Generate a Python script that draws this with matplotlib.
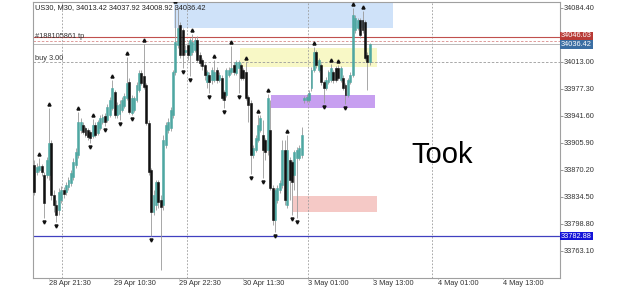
import numpy as np
import matplotlib.pyplot as plt
from matplotlib.patches import Rectangle
import matplotlib.transforms as mtransforms

plt.rcParams["font.family"] = ["Liberation Sans", "DejaVu Sans"]

# M30 candles (price)
opens = [33876.8, 33867.6, 33870.2, 33875.5, 33863.6, 33863.6, 33863.6, 33905.9, 33837.2, 33824.0,
         33817.4, 33830.5, 33843.8, 33841.1, 33847.7, 33853.0, 33860.9, 33876.8, 33890.0, 33923.1,
         33929.7, 33925.7, 33923.1, 33920.4, 33915.2, 33929.7, 33919.1, 33925.7, 33933.7, 33941.6,
         33936.3, 33942.9, 33952.2, 33973.3, 33942.9, 33944.3, 33949.5, 33954.8, 33965.4, 33986.6,
         33945.6, 33949.5, 33962.8, 33976.0, 33998.5, 33994.5, 33982.6, 33932.4, 33870.2, 33814.7,
         33824.0, 33854.3, 33830.5, 33824.0, 33903.3, 33923.1, 33925.7, 33942.9, 33999.8, 34035.5,
         34061.9, 34055.3, 34026.2, 34035.5, 34022.3, 34026.2, 34028.9, 34042.1, 34022.3, 34015.6,
         34009.0, 33986.6, 33995.8, 33989.2, 33989.2, 34002.4, 33989.2, 33991.8, 33973.3, 33969.4,
         33995.8, 33999.8, 34009.0, 33998.5, 34005.1, 34009.0, 34002.4, 33999.8, 33966.7, 33958.8,
         33890.0, 33896.6, 33909.9, 33923.1, 33916.5, 33909.9, 33896.6, 33923.1, 33846.4, 33804.1,
         33830.5, 33843.8, 33850.4, 33896.6, 33824.0, 33883.4, 33880.8, 33863.6, 33886.1, 33886.1,
         33890.0, 33962.8, 33962.8, 33962.8, 33978.6, 34002.4, 34026.2, 34002.4, 34009.0, 33986.6,
         33978.6, 33986.6, 33989.2, 33999.8, 34005.1, 34005.1, 33989.2, 33991.8, 33982.6, 33969.4,
         33986.6, 33995.8, 34055.3, 34058.0, 34068.5, 34068.5, 34065.9, 34022.3, 34013.42]
highs = [33883.4, 33879.5, 33886.1, 33878.2, 33867.6, 33887.4, 33952.2, 33909.9, 33843.8, 33830.5,
         33846.4, 33849.1, 33847.7, 33854.3, 33860.9, 33870.2, 33886.1, 33899.3, 33946.9, 33939.0,
         33933.7, 33928.4, 33925.7, 33923.1, 33937.6, 33933.7, 33936.3, 33942.9, 33944.3, 33945.6,
         33957.5, 33966.7, 33989.2, 33976.0, 33960.1, 33962.8, 33966.7, 33972.0, 34019.6, 33991.8,
         33969.4, 33968.0, 33986.6, 34002.4, 34002.4, 34036.8, 33985.2, 33936.3, 33872.9, 33843.8,
         33857.0, 33857.0, 33837.2, 33916.5, 33933.7, 33939.0, 33953.5, 34002.4, 34088.4, 34084.4,
         34065.9, 34058.0, 34035.5, 34039.4, 34044.7, 34050.0, 34046.1, 34047.4, 34026.2, 34018.3,
         34011.7, 34002.4, 33999.8, 34006.4, 34015.6, 34006.4, 33999.8, 33995.8, 33976.0, 34005.1,
         34006.4, 34034.2, 34013.0, 34015.6, 34015.6, 34011.7, 34005.1, 34013.0, 33969.4, 33962.8,
         33903.3, 33916.5, 33942.9, 33942.9, 33936.3, 33912.5, 33970.7, 33962.8, 33850.4, 33846.4,
         33850.4, 33857.0, 33909.9, 33909.9, 33916.5, 33887.4, 33883.4, 33896.6, 33900.6, 33903.3,
         33927.1, 33968.0, 33970.7, 33976.0, 34006.4, 34032.8, 34028.9, 34018.3, 34011.7, 33989.2,
         33993.2, 34002.4, 34010.4, 34002.4, 34007.7, 34009.0, 34007.7, 33995.8, 33985.2, 33991.8,
         33999.8, 34084.4, 34075.1, 34071.2, 34071.2, 34080.4, 34068.5, 34026.2, 34037.92]
lows = [33837.2, 33863.6, 33867.6, 33862.3, 33806.8, 33859.6, 33857.0, 33830.5, 33814.7, 33801.5,
        33810.7, 33826.6, 33833.2, 33837.2, 33843.8, 33849.1, 33857.0, 33872.9, 33886.1, 33919.1,
        33917.8, 33913.8, 33909.9, 33905.9, 33912.5, 33913.8, 33916.5, 33923.1, 33931.0, 33928.4,
        33933.7, 33940.3, 33949.5, 33939.0, 33939.0, 33936.3, 33946.9, 33952.2, 33962.8, 33944.3,
        33942.9, 33946.9, 33960.1, 33973.3, 33982.6, 33977.3, 33929.7, 33863.6, 33782.9, 33810.7,
        33817.4, 33820.0, 33738.0, 33817.4, 33899.3, 33919.1, 33921.8, 33939.0, 33995.8, 34031.5,
        34018.3, 34005.1, 34022.3, 34015.6, 33994.5, 34022.3, 34026.2, 34013.0, 34007.7, 34002.4,
        33989.2, 33978.6, 33972.0, 33983.9, 33986.6, 33985.2, 33986.6, 33962.8, 33952.2, 33966.7,
        33993.2, 33997.1, 33995.8, 33995.8, 33972.0, 33989.2, 33989.2, 33962.8, 33933.7, 33864.9,
        33886.1, 33894.0, 33907.2, 33920.4, 33859.6, 33883.4, 33890.0, 33843.8, 33797.5, 33788.2,
        33826.6, 33839.8, 33846.4, 33824.0, 33820.0, 33830.5, 33810.7, 33843.8, 33806.8, 33883.4,
        33886.1, 33958.8, 33960.1, 33960.1, 33974.7, 33999.8, 34005.1, 33999.8, 33982.6, 33958.8,
        33976.0, 33983.9, 33986.6, 33985.2, 33986.6, 33989.2, 33986.6, 33976.0, 33957.5, 33966.7,
        33983.9, 33993.2, 34051.4, 34055.3, 34044.7, 34051.4, 34015.6, 33976.0, 34008.92]
closes = [33841.1, 33874.2, 33875.5, 33867.6, 33826.6, 33883.4, 33905.9, 33837.2, 33824.0, 33810.7,
          33841.1, 33843.8, 33838.5, 33850.4, 33857.0, 33866.2, 33880.8, 33894.0, 33933.7, 33933.7,
          33920.4, 33916.5, 33913.8, 33912.5, 33929.7, 33916.5, 33933.7, 33939.0, 33940.3, 33933.7,
          33953.5, 33962.8, 33978.6, 33942.9, 33956.1, 33957.5, 33962.8, 33968.0, 33985.2, 33946.9,
          33965.4, 33965.4, 33982.6, 33998.5, 33985.2, 33979.9, 33932.4, 33867.6, 33814.7, 33837.2,
          33854.3, 33827.9, 33821.3, 33909.9, 33929.7, 33933.7, 33949.5, 33999.8, 34039.4, 34058.0,
          34022.3, 34022.3, 34028.9, 34022.3, 34042.1, 34039.4, 34042.1, 34015.6, 34011.7, 34007.7,
          33995.8, 33999.8, 33986.6, 34002.4, 33999.8, 33989.2, 33995.8, 33965.4, 33962.8, 34002.4,
          34002.4, 34005.1, 33999.8, 34013.0, 34013.0, 33991.8, 33991.8, 33965.4, 33956.1, 33890.0,
          33899.3, 33912.5, 33929.7, 33939.0, 33896.6, 33894.0, 33965.4, 33846.4, 33804.1, 33843.8,
          33846.4, 33853.0, 33896.6, 33830.5, 33896.6, 33857.0, 33854.3, 33894.0, 33896.6, 33899.3,
          33916.5, 33965.4, 33966.7, 33972.0, 34002.4, 34026.2, 34009.0, 34015.6, 33986.6, 33978.6,
          33989.2, 33999.8, 34005.1, 33989.2, 33989.2, 33991.8, 34005.1, 33978.6, 33969.4, 33989.2,
          33995.8, 34075.1, 34071.2, 34068.5, 34048.7, 34055.3, 34018.3, 34013.0, 34036.42]

# fractal arrows (bar index)
frac_up = [2, 6, 18, 24, 32, 38, 45, 58, 65, 74, 81, 87, 92, 96, 104, 115, 122, 125, 131, 135]
frac_dn = [4, 9, 23, 29, 35, 40, 48, 61, 64, 72, 78, 84, 89, 94, 99, 106, 108, 119, 128]

time_labels = ["28 Apr 21:30", "29 Apr 10:30", "29 Apr 22:30", "30 Apr 11:30",
               "3 May 01:00", "3 May 13:00", "4 May 01:00", "4 May 13:00"]
time_pos = [6.0, 32.7, 59.5, 85.8, 112.6, 139.3, 166.1, 192.8]
vgrid_pos = [11.3, 62.8, 112.6, 163.6]

price_ticks = [34084.40, 34013.00, 33977.30, 33941.60, 33905.90,
               33870.20, 33834.50, 33798.80, 33763.10]

tp_price = 34046.03
ask_price = 34041.2
bid_price = 34036.42
buy_price = 34013.00
sup_price = 33782.88

# zones: (x0, x1, y_low, y_high, colour)
zones = [
    (57.3, 147.7, 34058.0, 34091.0, "#cfe2f9"),
    (84.6, 141.1, 34006.4, 34031.5, "#f8f8c6"),
    (97.5, 140.2, 33952.2, 33969.4, "#c79ff0"),
    (106.2, 141.1, 33814.7, 33835.8, "#f5c9c6"),
]

fig = plt.figure(figsize=(6.25, 2.89), dpi=100)
ax = fig.add_axes([33 / 625, 11 / 289, 527 / 625, 276 / 289])

x = np.arange(len(opens))
o = np.array(opens); h = np.array(highs); l = np.array(lows); c = np.array(closes)
up = c >= o

for x0, x1, y0, y1, col in zones:
    ax.add_patch(Rectangle((x0, y0), x1 - x0, y1 - y0, facecolor=col, edgecolor="none", zorder=0))

for gx in vgrid_pos:
    ax.axvline(gx, color="#9a9a9a", lw=0.6, ls=(0, (2, 2)), zorder=0.5)

ax.axhline(buy_price, color="#9a9a9a", lw=0.6, ls=(0, (3, 2)), zorder=0.5)
ax.axhline(tp_price, color="#c0504d", lw=0.8, zorder=1)
ax.axhline(ask_price, color="#d98c8a", lw=0.6, ls=(0, (3, 2)), zorder=1)
ax.axhline(bid_price, color="#b0b0b0", lw=0.6, zorder=1)
ax.axhline(sup_price, color="#4040c0", lw=0.9, zorder=1)

# candles
ax.vlines(x, l, h, color="#999999", lw=0.6, zorder=2)
body_lo = np.minimum(o, c)
body_h = np.maximum(np.abs(c - o), 0.8)
ax.bar(x[up], body_h[up], bottom=body_lo[up], width=0.8, color="#4fa7a2",
       edgecolor="#4fa7a2", lw=0.4, zorder=3)
ax.bar(x[~up], body_h[~up], bottom=body_lo[~up], width=0.8, color="#111111",
       edgecolor="#111111", lw=0.4, zorder=3)

# fractal arrows
tr_up = mtransforms.offset_copy(ax.transData, fig=fig, x=0, y=4, units="dots")
tr_dn = mtransforms.offset_copy(ax.transData, fig=fig, x=0, y=-4, units="dots")
ax.plot(x[frac_up], h[frac_up], ls="none", marker="^", ms=2.2, color="#111111", transform=tr_up, zorder=4)
ax.plot(x[frac_dn], l[frac_dn], ls="none", marker="v", ms=2.2, color="#111111", transform=tr_dn, zorder=4)

ax.set_xlim(-0.6, -0.6 + 527 / 2.43)
ax.set_ylim(33727.4, 34092.3)

ax.yaxis.tick_right()
ax.set_yticks(price_ticks)
ax.set_yticklabels([f"{p:.2f}" for p in price_ticks], fontsize=5.3, color="#333333")
ax.set_xticks(time_pos)
ax.set_xticklabels(time_labels, fontsize=5.3, color="#333333", ha="left")
ax.tick_params(axis="y", length=2, width=0.6, color="#888888", pad=1)
ax.tick_params(axis="x", length=1, width=0.6, color="#888888", pad=0.5)
for sp in ax.spines.values():
    sp.set_color("#a0a0a0")
    sp.set_linewidth(0.8)

# price tags on right scale
ytr = mtransforms.blended_transform_factory(ax.transAxes, ax.transData)
tags = [(tp_price + 1.5, f"{tp_price:.2f}", "#b83a36"),
        (bid_price - 0.5, f"{bid_price:.2f}", "#3b6ea3"),
        (sup_price, f"{sup_price:.2f}", "#1414d8")]
for yv, txt, col in tags:
    ax.text(1.002, yv, txt, transform=ytr, fontsize=5.3, color="white", va="center", ha="left",
            bbox=dict(facecolor=col, edgecolor="none", pad=0.6), zorder=6, clip_on=False)

ax.text(0.004, 0.993, "US30, M30, 34013.42 34037.92 34008.92 34036.42", transform=ax.transAxes,
        fontsize=5.3, color="#222222", va="top", ha="left")
ax.text(0.004, tp_price, "#188105861 tp", transform=ytr, fontsize=5.3, color="#333333", va="center")
ax.text(0.004, buy_price + 4.5, "buy 3.00", transform=ytr, fontsize=5.3, color="#333333", va="center")

ax.text(442, 134, "Took", transform=None, fontsize=21, color="black", ha="center", va="center")

fig.savefig("out.png", dpi=100)
